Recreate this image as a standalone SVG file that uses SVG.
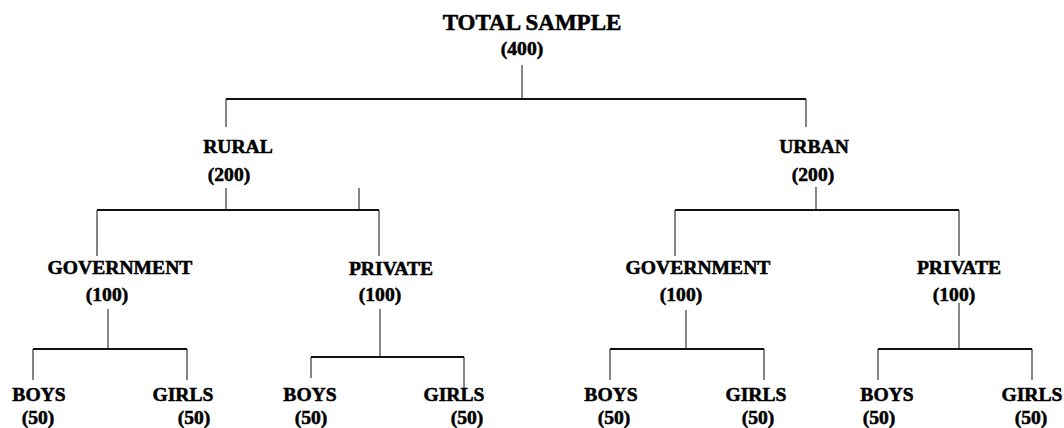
<svg xmlns="http://www.w3.org/2000/svg" width="1064" height="428" viewBox="0 0 1064 428">
<style>
text{font-family:"Liberation Serif","Times New Roman",serif;font-weight:bold;fill:#000;text-anchor:middle;font-size:19.6px;stroke:#000;stroke-width:0.55px}
.title{font-size:23px}
.h{stroke:#111;stroke-width:2;fill:none}
.v{stroke:#222;stroke-width:1.1;fill:none}
</style>
<rect width="1064" height="428" fill="#fff"/>
<g id="connectors">
<path class="v" d="M522 65V99"/>
<path class="h" d="M226 99H806"/>
<path class="v" d="M226 99V127M806 99V127"/>
<path class="v" d="M226 188V210M359 188V210"/>
<path class="h" d="M97 210H379"/>
<path class="v" d="M97 210V256M379 210V256"/>
<path class="v" d="M108 309V349"/>
<path class="h" d="M33 349H187"/>
<path class="v" d="M33 349V380M187 349V380"/>
<path class="v" d="M380 309V357"/>
<path class="h" d="M311 357H464"/>
<path class="v" d="M311 357V378M464 357V390"/>
<path class="v" d="M816 187V210"/>
<path class="h" d="M675 210H959"/>
<path class="v" d="M675 210V256M959 210V256"/>
<path class="v" d="M686 310V349"/>
<path class="h" d="M610 349H764"/>
<path class="v" d="M610 349V380M764 349V380"/>
<path class="v" d="M959 303V349"/>
<path class="h" d="M878 349H1032"/>
<path class="v" d="M878 349V380M1032 349V380"/>
</g>
<g id="total"><text class="title" x="532" y="30">TOTAL SAMPLE</text><text x="522" y="55">(400)</text></g>
<g id="rural"><text x="238" y="153">RURAL</text><text x="229" y="181">(200)</text></g>
<g id="urban"><text x="814" y="153">URBAN</text><text x="813" y="181">(200)</text></g>
<g id="rural-gov"><text x="120" y="274">GOVERNMENT</text><text x="107" y="301">(100)</text></g>
<g id="rural-priv"><text x="391" y="275">PRIVATE</text><text x="380" y="301">(100)</text></g>
<g id="urban-gov"><text x="698" y="274">GOVERNMENT</text><text x="681" y="301">(100)</text></g>
<g id="urban-priv"><text x="959" y="274">PRIVATE</text><text x="954" y="301">(100)</text></g>
<g id="rg-boys"><text x="39" y="401">BOYS</text><text x="38" y="424">(50)</text></g>
<g id="rg-girls"><text x="183" y="401">GIRLS</text><text x="194" y="424">(50)</text></g>
<g id="rp-boys"><text x="310" y="401">BOYS</text><text x="311" y="424">(50)</text></g>
<g id="rp-girls"><text x="454" y="401">GIRLS</text><text x="467" y="424">(50)</text></g>
<g id="ug-boys"><text x="611" y="401">BOYS</text><text x="614" y="424">(50)</text></g>
<g id="ug-girls"><text x="756" y="401">GIRLS</text><text x="758" y="424">(50)</text></g>
<g id="up-boys"><text x="887" y="401">BOYS</text><text x="879" y="424">(50)</text></g>
<g id="up-girls"><text x="1032" y="401">GIRLS</text><text x="1031" y="424">(50)</text></g>
</svg>
